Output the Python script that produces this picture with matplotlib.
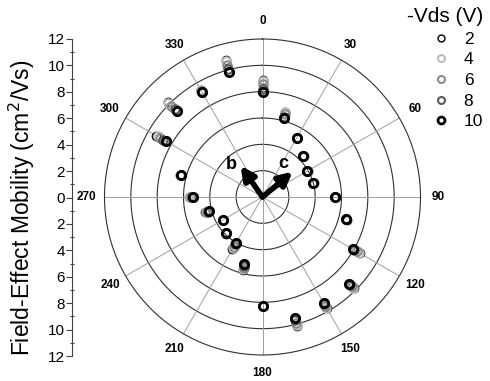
import numpy as np
import matplotlib
matplotlib.use('Agg')
import matplotlib.pyplot as plt
from matplotlib.lines import Line2D
from matplotlib.ticker import FuncFormatter

plt.rcParams.update({'font.family': ['Liberation Sans', 'DejaVu Sans']})

# ==== data: mobility vs in-plane angle for several -Vds ====
angles = np.arange(0, 360, 15)
vds = ['2', '4', '6', '8', '10']
mob_2 = [8.9, 6.7, 5.2, 4.45, 3.95, 4.05, 5.55, 6.65, 8.55, 9.8, 9.75, 10.15,
         8.25, 5.75, 4.6, 3.95, 3.5, 4.5, 5.6, 6.45, 9.3, 10.2, 9.4, 10.8]
mob_4 = [8.8, 6.65, 5.2, 4.45, 3.95, 4.05, 5.5, 6.6, 8.45, 9.75, 9.7, 10.1,
         8.25, 5.7, 4.5, 3.9, 3.5, 4.45, 5.55, 6.45, 9.2, 10.1, 9.35, 10.7]
mob_6 = [8.55, 6.5, 5.2, 4.4, 3.9, 4.0, 5.5, 6.6, 8.25, 9.6, 9.55, 9.9,
         8.25, 5.55, 4.35, 3.9, 3.5, 4.35, 5.45, 6.4, 8.95, 9.8, 9.3, 10.4]
mob_8 = [8.2, 6.3, 5.2, 4.4, 3.9, 4.0, 5.5, 6.6, 8.0, 9.45, 9.4, 9.65,
         8.25, 5.4, 4.15, 3.9, 3.5, 4.3, 5.35, 6.4, 8.7, 9.45, 9.2, 10.05]
mob_10 = [8.0, 6.2, 5.2, 4.4, 3.9, 4.0, 5.5, 6.6, 7.9, 9.3, 9.3, 9.5,
          8.25, 5.3, 4.0, 3.9, 3.5, 4.2, 5.3, 6.4, 8.5, 9.2, 9.2, 9.8]
series = [mob_2, mob_4, mob_6, mob_8, mob_10]

colors = ['black', '#bdbdbd', '#8c8c8c', '#5a5a5a', 'black']
mews = [1.0, 1.5, 1.5, 1.5, 2.0]

# crystal axes arrows (angle deg, length)
arrow_b = (-35, 2.9)
arrow_c = (50, 3.0)
rings = [2, 4, 6, 8, 10]

W, H = 490, 381
fig = plt.figure(figsize=(W/100, H/100), dpi=100)

# ====// polar plot \\ ====
cx, cy, R = 262.5, 197, 158
ax = fig.add_axes([(cx-R)/W, (H-cy-R)/H, 2*R/W, 2*R/H], projection='polar')
ax.set_theta_zero_location('N')
ax.set_theta_direction(-1)
ax.set_ylim(0, 12)
ax.set_yticks([])
ax.xaxis.grid(True, color='#a0a0a0', lw=0.7)
ax.spines['polar'].set_color('#303030')
ax.spines['polar'].set_linewidth(0.8)
full = np.linspace(0, 2*np.pi, 361)
for rr in rings:
    ax.plot(full, np.full_like(full, rr), color='#303030', lw=0.8, zorder=1)
ax.set_xticks(np.deg2rad(np.arange(0, 360, 30)))
ax.set_xticklabels([str(a) for a in range(0, 360, 30)],
                   fontsize=8.5, fontweight='bold')
ax.set_xticks(np.deg2rad(np.arange(15, 360, 30)), minor=True)
ax.tick_params(axis='x', which='major', pad=6, length=0)
ax.tick_params(axis='x', which='minor', direction='in', length=3,
               color='#303030')

th = np.deg2rad(angles)
for r, c, mw in zip(series, colors, mews):
    ax.plot(th, r, 'o', ms=6, mfc='none', mec=c, mew=mw, clip_on=False,
            zorder=3)

for (ang, length), lab, lpos in [(arrow_b, 'b', (-44, 3.4)),
                                 (arrow_c, 'c', (32, 3.0))]:
    ax.annotate('', xy=(np.deg2rad(ang), length), xytext=(0, 0),
                arrowprops=dict(arrowstyle='-|>', lw=4, color='black',
                                mutation_scale=20, shrinkA=0, shrinkB=0))
    ax.text(np.deg2rad(lpos[0]), lpos[1], lab, fontsize=13,
            fontweight='bold', ha='center', va='center')

# ====// left linear axis \\ ====
lax = fig.add_axes([72/W, (H-356)/H, 0.0001, 317/H])
lax.set_ylim(-12, 12)
lax.set_xticks([])
for s in ['top', 'right', 'bottom']:
    lax.spines[s].set_visible(False)
lax.spines['left'].set_color('#404040')
lax.set_yticks(np.arange(-12, 13, 2))
lax.set_yticks(np.arange(-11, 12, 2), minor=True)
lax.yaxis.set_major_formatter(FuncFormatter(lambda v, p: '%d' % abs(v)))
lax.tick_params(axis='y', which='major', length=4, width=0.8, pad=1,
                labelsize=11, color='#404040')
lax.tick_params(axis='y', which='minor', length=3, width=0.8,
                direction='inout', color='#404040')
fig.text(22/W, 1 - 208/H, 'Field-Effect Mobility (cm$^2$/Vs)', fontsize=16.5,
         rotation=90, ha='center', va='center')

# ====// legend \\ ====
handles = [Line2D([], [], ls='none', marker='o', ms=5, mfc='none', mec=c,
                  mew=mw) for c, mw in zip(colors, mews)]
leg = fig.legend(handles, vds, title='-Vds (V)', loc='upper right',
                 bbox_to_anchor=(1.0, 1.0), frameon=False, fontsize=12.5,
                 title_fontsize=15, handlelength=1.0, handletextpad=0.8,
                 labelspacing=0.32, borderpad=0.3, borderaxespad=0.1)
leg._legend_box.align = 'right'

fig.savefig('out.png', dpi=100)
